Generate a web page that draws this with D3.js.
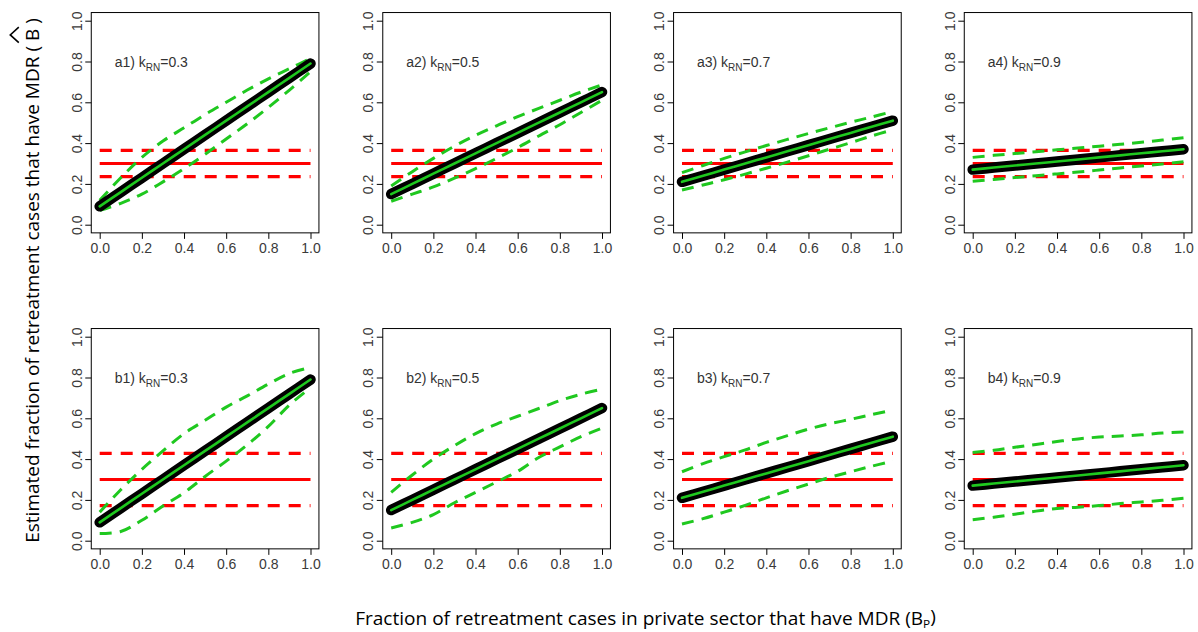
<!DOCTYPE html>
<html>
<head>
<meta charset="utf-8">
<script src="https://cdn.jsdelivr.net/npm/d3@7"></script>
<style>
  html, body { margin: 0; padding: 0; background: #fff; }
  svg { display: block; }
</style>
</head>
<body>
<svg id="chart" width="1198" height="632"></svg>
<script>
// ---------------- data ----------------
const bp = [0, 0.1, 0.2, 0.3, 0.4, 0.5, 0.6, 0.7, 0.8, 0.9, 1.0];
const kRN = [0.3, 0.5, 0.7, 0.9];
const rowLetters = ["a", "b"];

const estK03 = [0.09, 0.16, 0.23, 0.30, 0.37, 0.44, 0.51, 0.58, 0.65, 0.72, 0.79];
const estK05 = [0.15, 0.20, 0.25, 0.30, 0.35, 0.40, 0.45, 0.50, 0.55, 0.60, 0.65];
const estK07 = [0.21, 0.24, 0.27, 0.30, 0.33, 0.36, 0.39, 0.42, 0.45, 0.48, 0.51];
const estK09 = [0.27, 0.28, 0.29, 0.30, 0.31, 0.32, 0.33, 0.34, 0.35, 0.36, 0.37];

const upperA1 = [0.12, 0.23, 0.33, 0.41, 0.475, 0.54, 0.60, 0.66, 0.715, 0.765, 0.815];
const lowerA1 = [0.07, 0.105, 0.15, 0.21, 0.275, 0.345, 0.42, 0.495, 0.575, 0.66, 0.75];
const upperA2 = [0.19, 0.26, 0.325, 0.385, 0.438, 0.485, 0.53, 0.57, 0.61, 0.65, 0.685];
const lowerA2 = [0.115, 0.15, 0.185, 0.228, 0.275, 0.325, 0.378, 0.435, 0.49, 0.55, 0.61];
const upperA3 = [0.255, 0.29, 0.325, 0.357, 0.388, 0.418, 0.447, 0.475, 0.502, 0.528, 0.555];
const lowerA3 = [0.17, 0.195, 0.22, 0.248, 0.277, 0.307, 0.338, 0.37, 0.402, 0.435, 0.465];
const upperA4 = [0.33, 0.34, 0.349, 0.358, 0.367, 0.376, 0.385, 0.394, 0.404, 0.415, 0.426];
const lowerA4 = [0.213, 0.222, 0.231, 0.24, 0.249, 0.258, 0.268, 0.278, 0.288, 0.298, 0.308];

const upperB1 = [0.14, 0.25, 0.35, 0.44, 0.525, 0.59, 0.655, 0.71, 0.768, 0.82, 0.85];
const lowerB1 = [0.035, 0.045, 0.10, 0.17, 0.235, 0.315, 0.39, 0.47, 0.56, 0.665, 0.75];
const upperB2 = [0.237, 0.322, 0.40, 0.466, 0.525, 0.572, 0.61, 0.648, 0.687, 0.718, 0.743];
const lowerB2 = [0.062, 0.09, 0.128, 0.186, 0.237, 0.288, 0.34, 0.408, 0.46, 0.51, 0.552];
const upperB3 = [0.338, 0.378, 0.412, 0.445, 0.482, 0.515, 0.547, 0.573, 0.595, 0.618, 0.64];
const lowerB3 = [0.082, 0.108, 0.14, 0.173, 0.21, 0.245, 0.278, 0.31, 0.338, 0.365, 0.39];
const upperB4 = [0.432, 0.443, 0.458, 0.472, 0.486, 0.499, 0.508, 0.513, 0.519, 0.528, 0.533];
const lowerB4 = [0.103, 0.115, 0.13, 0.145, 0.158, 0.164, 0.172, 0.182, 0.19, 0.198, 0.208];

const refValue = 0.3;
const refBandA = [0.236, 0.364];
const refBandB = [0.172, 0.428];

const tickValues = [0, 0.2, 0.4, 0.6, 0.8, 1.0];
const tickLabels = ["0.0", "0.2", "0.4", "0.6", "0.8", "1.0"];

const yTitle = "Estimated fraction of retreatment cases that have MDR ( ";
const xTitle = "Fraction of retreatment cases in private sector that have MDR (B";

// ---------------- layout ----------------
const colX0 = [99.7, 391.2, 682, 972.7];
const unitX = 210.8;
const rowY0 = [224.7, 540.7];
const unitY = 204;
const pad = 0.04;

const GREEN = "#1fc81f";
const RED = "#ff0000";
const tickFont = "'Liberation Sans', Arial, sans-serif";
const titleFont = "'Open Sans', 'Noto Sans', sans-serif";

const ests = [estK03, estK05, estK07, estK09];
const uppers = [[upperA1, upperA2, upperA3, upperA4], [upperB1, upperB2, upperB3, upperB4]];
const lowers = [[lowerA1, lowerA2, lowerA3, lowerA4], [lowerB1, lowerB2, lowerB3, lowerB4]];
const bands = [refBandA, refBandB];

const svg = d3.select("#chart");
svg.append("rect").attr("width", 1198).attr("height", 632).attr("fill", "#fff");

const panels = [];
for (let r = 0; r < 2; r++) {
  for (let c = 0; c < 4; c++) {
    panels.push({ r, c, label: rowLetters[r] + (c + 1), k: kRN[c],
      est: ests[c], up: uppers[r][c], lo: lowers[r][c], band: bands[r] });
  }
}

panels.forEach(p => {
  const x = d3.scaleLinear().domain([0, 1]).range([colX0[p.c], colX0[p.c] + unitX]);
  const y = d3.scaleLinear().domain([0, 1]).range([rowY0[p.r], rowY0[p.r] - unitY]);
  const g = svg.append("g");

  const bx0 = x(-pad), bx1 = x(1 + pad), by0 = y(1 + pad), by1 = y(-pad);

  // reference lines
  const hline = v => d3.line()([[x(0), y(v)], [x(1), y(v)]]);
  g.append("path").attr("d", hline(refValue)).attr("stroke", RED).attr("stroke-width", 3).attr("fill", "none");
  p.band.forEach(v => {
    g.append("path").attr("d", hline(v)).attr("stroke", RED).attr("stroke-width", 3.2)
      .attr("stroke-dasharray", "12,9").attr("fill", "none");
  });

  const line = d3.line().x((d, i) => x(bp[i])).y(d => y(d)).curve(d3.curveCatmullRom);

  // confidence bounds
  [p.up, p.lo].forEach(arr => {
    g.append("path").attr("d", line(arr)).attr("stroke", GREEN).attr("stroke-width", 3)
      .attr("stroke-dasharray", "12,8").attr("fill", "none");
  });

  // estimate line
  g.append("path").attr("d", line(p.est)).attr("stroke", "#000").attr("stroke-width", 10.5)
    .attr("stroke-linecap", "round").attr("stroke-linejoin", "round").attr("fill", "none");
  g.append("path").attr("d", line(p.est)).attr("stroke", GREEN).attr("stroke-width", 2.6)
    .attr("stroke-linecap", "round").attr("fill", "none");

  // box
  g.append("rect").attr("x", bx0).attr("y", by0).attr("width", bx1 - bx0).attr("height", by1 - by0)
    .attr("fill", "none").attr("stroke", "#000").attr("stroke-width", 1);

  // axes
  const fmt = (d) => tickLabels[tickValues.indexOf(d)];
  const xa = g.append("g").attr("transform", `translate(0,${by1})`)
    .call(d3.axisBottom(x).tickValues(tickValues).tickFormat(fmt).tickSize(6));
  xa.select(".domain").remove();
  xa.selectAll("text").attr("y", 20).attr("dy", 0)
    .style("font-family", tickFont).style("font-size", "14px").attr("fill", "#3a3a3a");

  const ya = g.append("g").attr("transform", `translate(${bx0},0)`)
    .call(d3.axisLeft(y).tickValues(tickValues).tickFormat(fmt).tickSize(6));
  ya.select(".domain").remove();
  ya.selectAll("text").attr("x", 0).attr("y", -9.6).attr("dy", 0)
    .attr("text-anchor", "middle").attr("transform", "rotate(-90)")
    .style("font-family", tickFont).style("font-size", "14px").attr("fill", "#3a3a3a");
  [xa, ya].forEach(a => a.selectAll("line").attr("stroke", "#000"));

  // panel label
  const t = g.append("text").attr("x", x(0.071)).attr("y", y(0.772))
    .style("font-family", tickFont).style("font-size", "14px").attr("fill", "#333");
  t.append("tspan").text(p.label + ") k");
  t.append("tspan").text("RN").style("font-size", "10px").attr("dy", 4);
  t.append("tspan").text("=" + p.k.toFixed(1)).attr("dy", -4);
});

// ---------------- axis titles ----------------
// x title: font size from glyph height, horizontally scaled to the reference length
const xg = svg.append("g");
const xt = xg.append("text").attr("x", 0).attr("y", 0).attr("text-anchor", "middle")
  .style("font-family", titleFont).style("font-size", "17.5px").attr("fill", "#000");
xt.append("tspan").text(xTitle);
xt.append("tspan").text("P").style("font-size", "62%").attr("dy", "0.3em");
xt.append("tspan").text(")").attr("dy", "-0.3em");
const xLen = xt.node().getComputedTextLength();
xg.attr("transform", `translate(645.5,625) scale(${581 / xLen},1)`);

// y title (rotated)
const yg = svg.append("g");
const yfs = 18.5;
const yt = yg.append("text").attr("x", 0).attr("y", 0).attr("text-anchor", "middle")
  .style("font-family", titleFont).style("font-size", yfs + "px").attr("fill", "#000");
yt.append("tspan").text(yTitle);
yt.append("tspan").text("B");
yt.append("tspan").text(" )");
const yLen = yt.node().getComputedTextLength();
yg.attr("transform", `translate(38.5,280.5) rotate(-90) scale(${525 / yLen},1)`);
const ext = yt.node().getExtentOfChar(yTitle.length);
const cx = ext.x + ext.width / 2;
const capTop = -0.714 * yfs;
yg.append("path")
  .attr("d", d3.line()([[cx - 7.5, capTop - 6.5], [cx, capTop - 15], [cx + 7.5, capTop - 6.5]]))
  .attr("fill", "none").attr("stroke", "#000").attr("stroke-width", 1.6);
</script>
</body>
</html>
